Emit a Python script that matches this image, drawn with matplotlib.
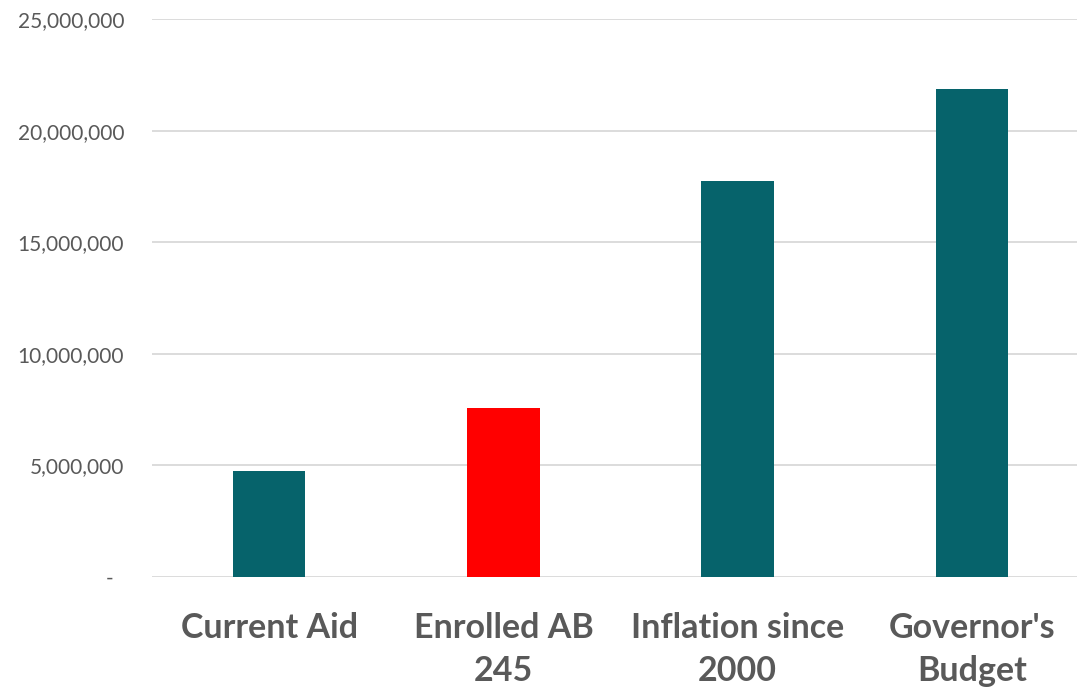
import matplotlib
matplotlib.use("Agg")
import matplotlib.pyplot as plt
from matplotlib.ticker import FuncFormatter

plt.rcParams['font.family'] = ['Lato', 'DejaVu Sans']

# funding levels by scenario
categories = ["Current Aid", "Enrolled AB\n245", "Inflation since\n2000", "Governor's\nBudget"]
amounts = [4750000, 7580000, 17760000, 21880000]
bar_colors = ["#06636B", "#FF0000", "#06636B", "#06636B"]
yticks = [0, 5000000, 10000000, 15000000, 20000000, 25000000]

fig = plt.figure(figsize=(10.77, 6.88), dpi=100)
ax = fig.add_axes([152/1077, 1 - 577/688, (1089 - 152)/1077, (577 - 19)/688])

x = range(len(categories))
ax.bar(x, amounts, width=0.31, color=bar_colors, zorder=3)

ax.set_ylim(0, 25000000)
ax.set_xlim(-0.5, 3.5)
ax.set_yticks(yticks)

def money(v, pos):
    if v == 0:
        return "-  "
    return f"{v:,.0f}"

ax.yaxis.set_major_formatter(FuncFormatter(money))
ax.grid(axis='y', color='#D9D9D9', linewidth=1.3, zorder=0)
for s in ax.spines.values():
    s.set_visible(False)

ax.tick_params(axis='y', length=0, pad=20, labelsize=15, labelcolor='#595959')
ax.tick_params(axis='x', length=0, pad=25, labelsize=24.5, labelcolor='#595959')
ax.set_xticks(list(x))
ax.set_xticklabels(categories, fontweight='bold', linespacing=1.42)

fig.savefig("out.png", dpi=100)
